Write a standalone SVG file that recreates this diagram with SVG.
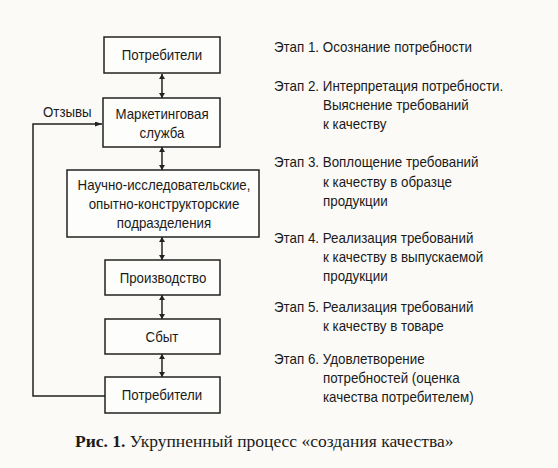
<svg xmlns="http://www.w3.org/2000/svg" width="558" height="468" viewBox="0 0 558 468">
<defs>
<marker id="ah" viewBox="0 0 10 10" refX="10" refY="5" markerWidth="5" markerHeight="6" markerUnits="userSpaceOnUse" orient="auto-start-reverse" preserveAspectRatio="none">
<path d="M0,0 L10,5 L0,10 z" fill="#222"/>
</marker>
<marker id="ah2" viewBox="0 0 10 10" refX="10" refY="5" markerWidth="7" markerHeight="5" markerUnits="userSpaceOnUse" orient="auto" preserveAspectRatio="none">
<path d="M0,0 L10,5 L0,10 z" fill="#222"/>
</marker>
</defs>
<style>
.box{fill:#fdfdfb;stroke:#222;stroke-width:1.5}
.t{font-family:"Liberation Sans",Arial,sans-serif;font-size:14px;fill:#1a1a1a}
.c{text-anchor:middle}
.ln{fill:none;stroke:#222;stroke-width:1.5}
.cap{font-family:"Liberation Serif","Times New Roman",serif;font-size:17.5px;fill:#1a1a1a}
</style>
<rect width="558" height="468" fill="#fbfaf7"/>
<g id="n1"><rect class="box" x="104" y="37" width="116" height="36"/><g transform="translate(162,0) scale(0.95,1)"><text class="t c" x="0" y="60">Потребители</text></g></g>
<g id="n2"><rect class="box" x="103" y="98" width="117" height="49"/><g transform="translate(162,0) scale(0.95,1)"><text class="t c" x="0" y="119">Маркетинговая</text><text class="t c" x="0" y="138">служба</text></g></g>
<g id="n3"><rect class="box" x="67" y="170" width="192" height="67"/><g transform="translate(164,0) scale(0.95,1)"><text class="t c" x="0" y="190">Научно-исследовательские,</text><text class="t c" x="0" y="209">опытно-конструкторские</text><text class="t c" x="0" y="228">подразделения</text></g></g>
<g id="n4"><rect class="box" x="105" y="260" width="115" height="35"/><g transform="translate(163,0) scale(0.95,1)"><text class="t c" x="0" y="283">Производство</text></g></g>
<g id="n5"><rect class="box" x="105" y="319" width="115" height="35"/><g transform="translate(162,0) scale(0.95,1)"><text class="t c" x="0" y="342">Сбыт</text></g></g>
<g id="n6"><rect class="box" x="105" y="377" width="115" height="36"/><g transform="translate(162,0) scale(0.95,1)"><text class="t c" x="0" y="400">Потребители</text></g></g>
<g id="connectors">
<line class="ln" x1="162" y1="74" x2="162" y2="98" marker-start="url(#ah)" marker-end="url(#ah)"/>
<line class="ln" x1="162" y1="147" x2="162" y2="170" marker-start="url(#ah)" marker-end="url(#ah)"/>
<line class="ln" x1="162" y1="237" x2="162" y2="260" marker-start="url(#ah)" marker-end="url(#ah)"/>
<line class="ln" x1="162" y1="295" x2="162" y2="319" marker-start="url(#ah)" marker-end="url(#ah)"/>
<line class="ln" x1="162" y1="354" x2="162" y2="377" marker-start="url(#ah)" marker-end="url(#ah)"/>
<polyline class="ln" points="105,396 33,396 33,124 102,124" marker-end="url(#ah2)"/>
<g transform="translate(43,0) scale(0.95,1)"><text class="t" x="0" y="117">Отзывы</text></g>
</g>
<g id="stages" class="t" transform="translate(274,0) scale(0.955,1)">
<text x="0" y="52">Этап 1. Осознание потребности</text>
<text x="0" y="91">Этап 2. Интерпретация потребности.</text>
<text x="51.3" y="110">Выяснение требований</text>
<text x="51.3" y="129">к качеству</text>
<text x="0" y="167">Этап 3. Воплощение требований</text>
<text x="51.3" y="187">к качеству в образце</text>
<text x="51.3" y="206">продукции</text>
<text x="0" y="243">Этап 4. Реализация требований</text>
<text x="51.3" y="262">к качеству в выпускаемой</text>
<text x="51.3" y="281">продукции</text>
<text x="0" y="312">Этап 5. Реализация требований</text>
<text x="51.3" y="331">к качеству в товаре</text>
<text x="0" y="364">Этап 6. Удовлетворение</text>
<text x="51.3" y="383">потребностей (оценка</text>
<text x="51.3" y="402">качества потребителем)</text>
</g>
<text class="cap" x="75" y="447"><tspan font-weight="bold">Рис. 1.</tspan> Укрупненный процесс «создания качества»</text>
</svg>
